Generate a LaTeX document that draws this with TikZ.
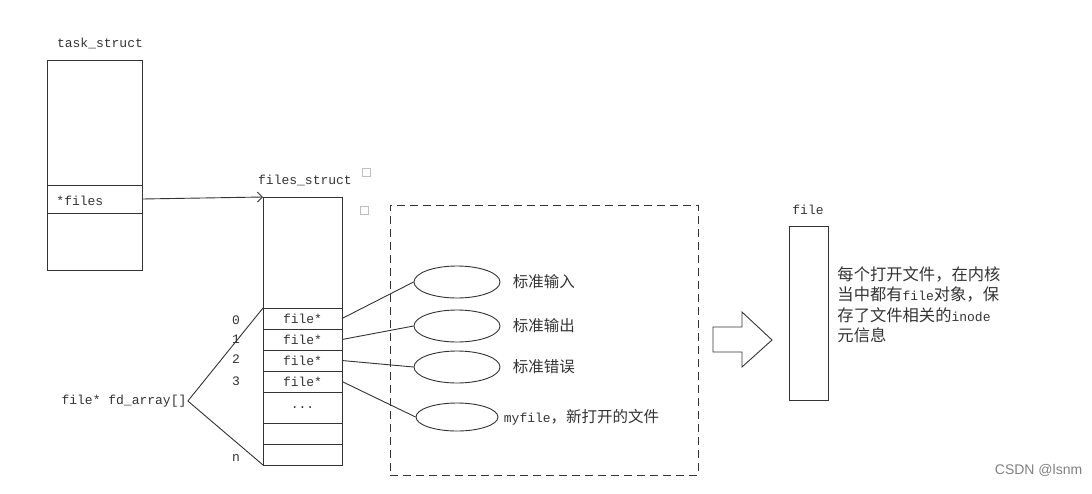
\documentclass[tikz,border=0pt]{standalone}
\usepackage{fontspec}
\setmonofont{Liberation Mono}
\setsansfont{Liberation Sans}
\newfontfamily\cjk{Noto Sans CJK SC}
\usetikzlibrary{positioning,shapes.geometric,arrows.meta}

\begin{document}
\begin{tikzpicture}[x=1pt, y=-1pt, >={Straight Barb[length=5pt,width=10pt]}, line width=0.9pt, color=black!80,
    cell/.style={draw, rectangle, inner sep=0pt, outer sep=0pt, anchor=north west, minimum width=79pt},
    lbl/.style={font=\fontsize{13}{15}\selectfont\ttfamily, inner sep=1pt},
    ell/.style={draw, ellipse, minimum width=86pt, minimum height=32pt, inner sep=0pt},
    zh/.style={font=\fontsize{15.5}{20.5}\selectfont\cjk, inner sep=0pt},
    sq/.style={draw=black!25, line width=0.5pt, rectangle, minimum size=8pt, inner sep=0pt}]
        \useasboundingbox (0,0) rectangle (1092,493);
        \node[lbl] (tasklbl) at (100,43) {task\_struct};
        \node[cell, minimum width=95pt, minimum height=125pt] (t0) at (47,60) {};
        \node[cell, minimum width=95pt, minimum height=28pt] (tf) at (t0.south west) {};
        \node[cell, minimum width=95pt, minimum height=57pt] (t2) at (tf.south west) {};
        \node[lbl, anchor=west] (fptr) at (55,201) {*files};
        \node[lbl] (fslbl) at (305,180) {files\_struct};
        \node[cell, minimum height=111pt] (rtop) at (263,197) {};
        \node[cell, lbl, minimum height=21pt] (r0) at (rtop.south west) {file*};
        \node[cell, lbl, minimum height=21pt] (r1) at (r0.south west) {file*};
        \node[cell, lbl, minimum height=21pt] (r2) at (r1.south west) {file*};
        \node[cell, lbl, minimum height=21pt] (r3) at (r2.south west) {file*};
        \node[cell, lbl, minimum height=31pt] (rd) at (r3.south west) {...};
        \node[cell, minimum height=21pt] (re) at (rd.south west) {};
        \node[cell, minimum height=21pt] (rn) at (re.south west) {};
        \node[lbl] (i0) at (236,320) {0};
        \node[lbl] (i1) at (236,339) {1};
        \node[lbl] (i2) at (236,359) {2};
        \node[lbl] (i3) at (236,381) {3};
        \node[lbl] (in) at (236,458) {n};
        \node[lbl] (fd) at (124,401) {file* fd\_array[]};
        \node[sq] (sq1) at (366,172) {};
        \node[sq] (sq2) at (364,210) {};
        \node[cell, dashed, dash pattern=on 8pt off 5pt, minimum width=308pt, minimum height=270pt] (dbox) at (390,205) {};
        \node[ell] (e0) at (457,282) {};
        \node[ell] (e1) at (457,326) {};
        \node[ell] (e2) at (457,367) {};
        \node[ell, minimum width=82pt, minimum height=28pt] (e3) at (457,417) {};
        \node[zh, right=12pt of e0] (l0) {标准输入};
        \node[zh, right=12pt of e1] (l1) {标准输出};
        \node[zh, right=12pt of e2] (l2) {标准错误};
        \node[zh, right=5pt of e3] (l3) {{\ttfamily\fontsize{13}{15}\selectfont myfile}，新打开的文件};
        \node[lbl] (filelbl) at (808,210) {file};
        \node[cell, minimum width=39pt, minimum height=174pt] (fbox) at (789,226) {};
        \node[zh, font=\fontsize{16.3}{20.5}\selectfont\cjk, anchor=north west, align=left] (note) at (837,266) {每个打开文件，在内核\\当中都有{\ttfamily\fontsize{13}{15}\selectfont file}对象，保\\存了文件相关的{\ttfamily\fontsize{13}{15}\selectfont inode}\\元信息};
        \node[font=\fontsize{14}{16}\selectfont\sffamily, text=black!50, anchor=east] (mark) at (1086,470) {CSDN @lsnm};
        \draw (713,327) -- (742,327) -- (742,312) -- (772,340) -- (742,367) -- (742,352) -- (713,352) -- cycle;
        \draw[->] (tf.east) -- (rtop.north west);
        \draw (fd.east) -- (r0.north west);
        \draw (fd.east) -- (rn.south west);
        \draw (r0.east) -- (e0.west);
        \draw (r1.east) -- (e1.west);
        \draw (r2.east) -- (e2.west);
        \draw (r3.east) -- (e3.west);
    \end{tikzpicture}
\end{document}
